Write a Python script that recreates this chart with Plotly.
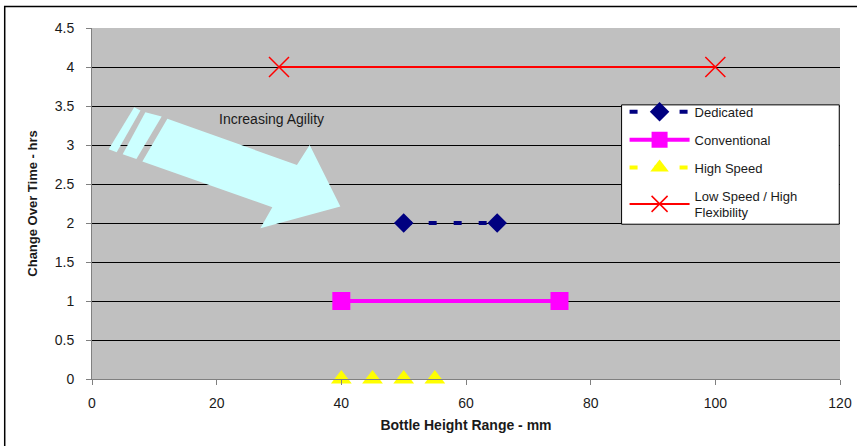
import plotly.graph_objects as go

# Changeover time versus bottle height range for four filling-line types
ded_x = [50, 65]
ded_y = [2, 2]
conv_x = [40, 75]
conv_y = [1, 1]
hs_x = [40, 45, 50, 55]
hs_y = [0, 0, 0, 0]
lsf_x = [30, 100]
lsf_y = [4, 4]

x_ticks = [0, 20, 40, 60, 80, 100, 120]
y_ticks = [0, 0.5, 1, 1.5, 2, 2.5, 3, 3.5, 4, 4.5]

FONT = "Liberation Sans, Arial, sans-serif"
TXT = "#1a1a1a"

fig = go.Figure()

fig.add_trace(go.Scatter(
    x=ded_x, y=ded_y, name="Dedicated", mode="lines+markers",
    line=dict(color="#000080", width=4, dash="8px,17px"),
    marker=dict(symbol="diamond", size=15, color="#000080"),
    legendgroup="a",
))
fig.add_trace(go.Scatter(
    x=conv_x, y=conv_y, name="Conventional", mode="lines+markers",
    line=dict(color="#FF00FF", width=4),
    marker=dict(symbol="square", size=18, color="#FF00FF"),
    legendgroup="b",
))
# legend entry for the high-speed series (dashed line + triangle)
fig.add_trace(go.Scatter(
    x=[None], y=[None], name="High Speed", mode="lines+markers",
    line=dict(color="#FFFF00", width=4, dash="8px,17px"),
    marker=dict(symbol="triangle-up", size=18, color="#FFFF00"),
    legendgroup="c",
))
fig.add_trace(go.Scatter(
    x=hs_x, y=hs_y, name="High Speed", mode="markers", showlegend=False,
    marker=dict(symbol="triangle-up", size=18, color="#FFFF00"),
    cliponaxis=False, legendgroup="c",
))
fig.add_trace(go.Scatter(
    x=lsf_x, y=lsf_y, name="Low Speed / High<br>Flexibility", mode="lines+markers",
    line=dict(color="#FF0000", width=2),
    marker=dict(symbol="x-thin", size=20, line=dict(color="#FF0000", width=1.5)),
    cliponaxis=False, legendgroup="d",
))

# "Increasing Agility" arrow with two trailing stripes
arrow_body = [(12.09, 3.335), (32.88, 2.745), (34.92, 3.001), (39.84, 2.211),
              (27.01, 1.934), (28.93, 2.203), (8.08, 2.787)]
stripe_2 = [(8.56, 3.420), (11.18, 3.364), (7.12, 2.822), (4.92, 2.882)]
stripe_1 = [(6.77, 3.484), (7.78, 3.443), (3.96, 2.908), (2.68, 2.944)]


def poly_path(pts):
    return "M " + " L ".join(f"{x},{y}" for x, y in pts) + " Z"


for pts in (arrow_body, stripe_2, stripe_1):
    fig.add_shape(type="path", path=poly_path(pts), xref="x", yref="y",
                  fillcolor="#CCFFFF", line=dict(width=0), layer="above")

fig.add_annotation(x=28.8, y=3.334, text="Increasing Agility", showarrow=False,
                   xanchor="center", yanchor="middle",
                   font=dict(family=FONT, size=14, color=TXT))

# legend frame (wider than the auto-sized legend box)
fig.add_shape(type="rect", xref="paper", yref="paper",
              x0=0.708, x1=0.999, y0=0.441, y1=0.781,
              line=dict(color="black", width=1), fillcolor="white", layer="above")

# outer chart frame
fig.add_shape(type="rect", xref="paper", yref="paper",
              x0=-0.1167, x1=1.03, y0=-0.25, y1=1.0612,
              line=dict(color="black", width=1.5), fillcolor="rgba(0,0,0,0)")

fig.update_layout(
    width=857, height=446,
    autosize=False,
    margin=dict(l=92, r=17, t=28, b=67, autoexpand=False),
    paper_bgcolor="white",
    plot_bgcolor="#C0C0C0",
    font=dict(family=FONT, size=13, color=TXT),
    showlegend=True,
    legend=dict(
        x=0.712, y=0.804, xanchor="left", yanchor="top",
        bgcolor="rgba(0,0,0,0)", borderwidth=0,
        font=dict(family=FONT, size=13, color=TXT),
        itemwidth=60, tracegroupgap=8,
        traceorder="grouped",
    ),
    xaxis=dict(
        range=[0, 120], tickvals=x_ticks, ticktext=[str(v) for v in x_ticks],
        showgrid=False, zeroline=False, automargin=False,
        showline=True, linecolor="#808080", linewidth=1,
        ticks="outside", ticklen=5, tickcolor="#808080",
        ticklabelstandoff=6,
        tickfont=dict(family=FONT, size=14, color=TXT),
        title=dict(text="Bottle Height Range - mm", standoff=10,
                   font=dict(family=FONT, size=14, color=TXT, weight="bold")),
    ),
    yaxis=dict(
        range=[0, 4.5], tickvals=y_ticks, ticktext=[f"{v:g}" for v in y_ticks],
        showgrid=True, gridcolor="black", gridwidth=1, zeroline=False,
        automargin=False,
        showline=True, linecolor="#808080", linewidth=1,
        ticks="outside", ticklen=5, tickcolor="#808080",
        ticklabelstandoff=9,
        tickfont=dict(family=FONT, size=14, color=TXT),
        title=dict(text="Change Over Time - hrs", standoff=14,
                   font=dict(family=FONT, size=13, color=TXT, weight="bold")),
    ),
)

fig.write_html("out.html")
